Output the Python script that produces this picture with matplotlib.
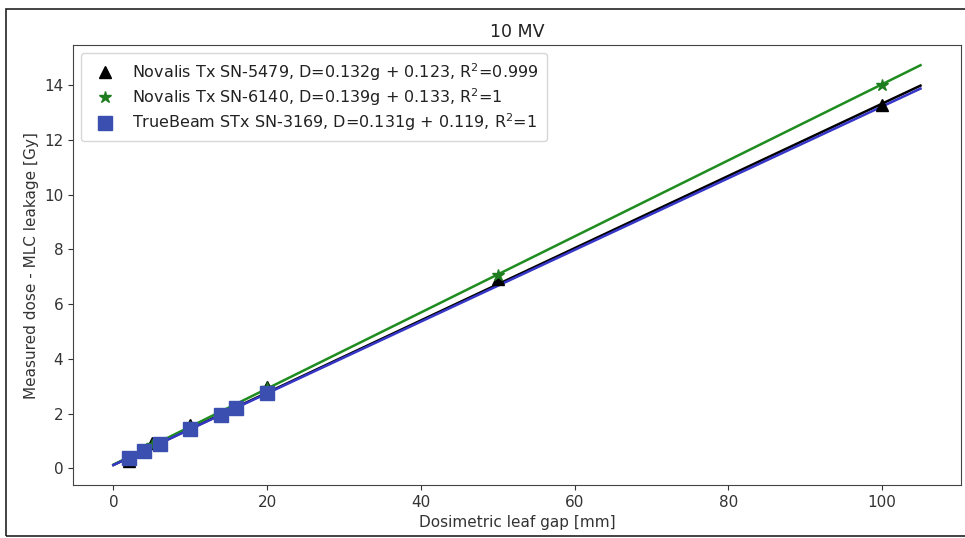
import matplotlib.pyplot as plt
from matplotlib.patches import Rectangle
import numpy as np

gap_5479 = [2, 5, 10, 20, 50, 100]
dose_5479 = [0.28, 0.93, 1.57, 2.98, 6.90, 13.27]
gap_6140 = [2, 5, 10, 20, 50, 100]
dose_6140 = [0.41, 0.84, 1.52, 2.93, 7.08, 14.00]
gap_3169 = [2, 4, 6, 10, 14, 16, 20]
dose_3169 = [0.36, 0.65, 0.89, 1.43, 1.95, 2.20, 2.75]

# ajustes lineales de la leyenda: pendiente, ordenada
fit_5479 = [0.132, 0.123]
fit_6140 = [0.139, 0.133]
fit_3169 = [0.131, 0.119]
fit_range = [0, 105]

labels = ["Novalis Tx SN-5479, D=0.132g + 0.123, R$^2$=0.999",
          "Novalis Tx SN-6140, D=0.139g + 0.133, R$^2$=1",
          "TrueBeam STx SN-3169, D=0.131g + 0.119, R$^2$=1"]

fig = plt.figure(figsize=(9.65, 5.38), dpi=100)
ax = fig.add_axes([0.0757, 0.0985, 0.92, 0.8175])

xf = np.array(fit_range, dtype=float)
ax.plot(xf, fit_5479[0]*xf + fit_5479[1], color="black", lw=1.8)
ax.plot(xf, fit_6140[0]*xf + fit_6140[1], color="#1e8c1e", lw=1.8)
ax.plot(xf, fit_3169[0]*xf + fit_3169[1], color="#3636c8", lw=1.8)

ax.plot(gap_5479, dose_5479, ls="none", marker="^", color="black", ms=8, label=labels[0])
ax.plot(gap_6140, dose_6140, ls="none", marker="*", color="#1e7d1e", ms=9, label=labels[1])
ax.plot(gap_3169, dose_3169, ls="none", marker="s", color="#3b4fb0", ms=10, label=labels[2])

ax.set_xlim(-5.25, 110.25)
ax.set_ylim(-0.61, 15.46)
ax.set_xticks([0, 20, 40, 60, 80, 100])
ax.set_yticks([0, 2, 4, 6, 8, 10, 12, 14])
ax.tick_params(labelsize=11, colors="#333333")
for s in ax.spines.values():
    s.set_color("#444444")
ax.set_title("10 MV", fontsize=12.5, color="#222222")
ax.set_xlabel("Dosimetric leaf gap [mm]", fontsize=11, color="#333333")
ax.set_ylabel("Measured dose - MLC leakage [Gy]", fontsize=11, color="#333333")
leg = ax.legend(loc="upper left", fontsize=11.5, handletextpad=0.7, borderpad=0.5,
                labelspacing=0.22)
for t in leg.get_texts():
    t.set_color("#222222")

# marco exterior de la figura
fig.patches.append(Rectangle((0.006, 0.004), 1.05, 0.98, transform=fig.transFigure,
                             fill=False, edgecolor="#222222", lw=1.2))

fig.savefig("out.png", dpi=100)
